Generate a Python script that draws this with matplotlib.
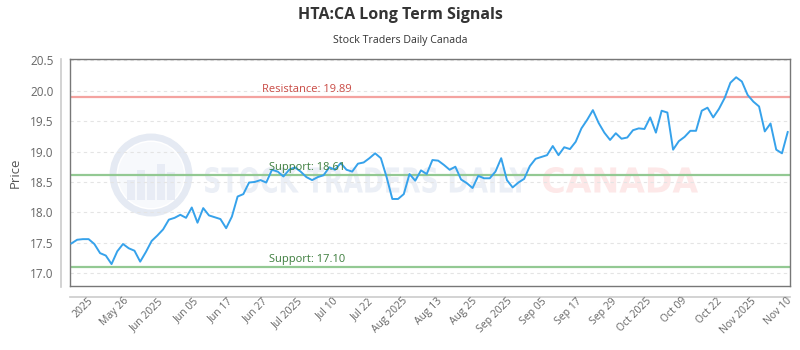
import matplotlib
matplotlib.use("Agg")
import matplotlib.pyplot as plt
from matplotlib.patches import Circle, Rectangle, PathPatch
from matplotlib.lines import Line2D
from matplotlib.transforms import IdentityTransform, Affine2D
from matplotlib.textpath import TextPath
from matplotlib.font_manager import FontProperties
import numpy as np

prices = [
    17.49, 17.55, 17.56, 17.56, 17.48, 17.33, 17.29, 17.15, 17.36, 17.48,
    17.41, 17.37, 17.19, 17.35, 17.53, 17.62, 17.72, 17.88, 17.91, 17.96,
    17.91, 18.08, 17.83, 18.07, 17.95, 17.92, 17.89, 17.74, 17.93, 18.26,
    18.30, 18.49, 18.50, 18.53, 18.49, 18.70, 18.67, 18.59, 18.70, 18.74,
    18.67, 18.58, 18.53, 18.58, 18.61, 18.74, 18.70, 18.81, 18.70, 18.67,
    18.80, 18.82, 18.89, 18.97, 18.89, 18.58, 18.22, 18.22, 18.30, 18.63,
    18.52, 18.69, 18.63, 18.86, 18.85, 18.78, 18.70, 18.75, 18.54, 18.48,
    18.40, 18.60, 18.56, 18.56, 18.67, 18.89, 18.53, 18.41, 18.49, 18.55,
    18.76, 18.88, 18.91, 18.94, 19.09, 18.94, 19.07, 19.04, 19.16, 19.38,
    19.52, 19.68, 19.47, 19.31, 19.19, 19.30, 19.21, 19.23, 19.35, 19.38,
    19.37, 19.56, 19.31, 19.67, 19.64, 19.03, 19.17, 19.24, 19.34, 19.34,
    19.67, 19.72, 19.56, 19.70, 19.88, 20.13, 20.22, 20.15, 19.93, 19.82,
    19.74, 19.33, 19.46, 19.03, 18.97, 19.32,
]
tick_labels = ["2025", "May 26", "Jun 2025", "Jun 05", "Jun 17", "Jun 27",
               "Jul 2025", "Jul 10", "Jul 22", "Aug 2025", "Aug 13", "Aug 25",
               "Sep 2025", "Sep 05", "Sep 17", "Sep 29", "Oct 2025", "Oct 09",
               "Oct 22", "Nov 2025", "Nov 10"]
resistance = [19.89]
supports = [18.61, 17.10]
yticks = [17.0, 17.5, 18.0, 18.5, 19.0, 19.5, 20.0, 20.5]

plt.rcParams['font.family'] = ['Open Sans', 'DejaVu Sans']

W, H = 800, 350
fig = plt.figure(figsize=(8, 3.5), dpi=100)
ax = fig.add_axes([70 / W, 1 - 286 / H, 720 / W, 227 / H])
ax.set_zorder(2)
ax.patch.set_alpha(0)

n = len(prices)
xs = list(range(n))
tick_pos = np.linspace(2.9, n - 1.3, len(tick_labels))

# ---- watermark (figure pixel coordinates) ----
idt = IdentityTransform()
cx, cy = 151, H - 175
fig.patches.append(Circle((cx, cy), 38, transform=idt, fill=False,
                          ec='#e5eaf3', lw=5, zorder=0))
fig.patches.append(Circle((cx, cy), 33, transform=idt, fill=True,
                          fc='#f7f9fc', ec='none', zorder=0))
for bx, bh in [(-20, 20), (-10, 30), (0, 24), (10, 36), (20, 28)]:
    fig.patches.append(Rectangle((cx + bx - 4, cy - 25), 8, bh, transform=idt,
                                 fc='#e8ecf5', ec='none', zorder=0))


def wm_text(s, x0, x1, ytop, ybot, color):
    tp = TextPath((0, 0), s, size=20, prop=FontProperties(family='DejaVu Sans', weight='bold'))
    ext = tp.get_extents()
    sx = (x1 - x0) / ext.width
    sy = (ybot - ytop) / ext.height
    tr = Affine2D().translate(-ext.x0, -ext.y0).scale(sx, sy).translate(x0, H - ybot)
    fig.patches.append(PathPatch(tr.transform_path(tp), transform=idt,
                                 fc=color, ec='none', zorder=0))


wm_text("STOCK TRADERS DAILY", 205, 528, 167, 193, '#ebeff6')
wm_text("CANADA", 543, 698, 167, 193, '#fde8e8')

# ---- data ----
ax.plot(xs, prices, color='#36a2eb', lw=1.4, zorder=3)

ax.axhline(resistance[0], color='#f4a3a0', lw=1.6, zorder=2)
ax.text(33.2, resistance[0] + 0.04, f"Resistance: {resistance[0]:.2f}",
        color='#c94a44', fontsize=8, ha='left', va='bottom', zorder=4)
for s in supports:
    ax.axhline(s, color='#93c993', lw=1.6, zorder=2)
    ax.text(34.4, s + 0.04, f"Support: {s:.2f}", color='#3d7d3d',
            fontsize=8, ha='left', va='bottom', zorder=4)

ax.set_xlim(-0.25, n - 1 + 0.4)
ax.set_ylim(16.79, 20.52)
ax.set_yticks(yticks)
ax.set_yticklabels([f"{v:.1f}" for v in yticks])
ax.set_xticks(tick_pos)
ax.set_xticklabels(tick_labels, rotation=45, ha='right', rotation_mode='anchor')
ax.tick_params(axis='x', length=0, pad=7, labelsize=7.5, colors='#666666')
ax.tick_params(axis='y', length=0, pad=12, labelsize=8.5, colors='#666666')
ax.grid(axis='y', color='#e4e4e4', linestyle=(0, (3, 3)), lw=0.8)
ax.grid(axis='x', visible=False)
ax.set_axisbelow(True)
for sp in ax.spines.values():
    sp.set_color('#777777')
    sp.set_linewidth(1.0)

ax.set_ylabel("Price", fontsize=9.5, color='#555555')
ax.yaxis.set_label_coords(-48 / 720, 0.5)

# outer light axis lines
fig.add_artist(Line2D([60.5 / W, 60.5 / W], [1 - 59 / H, 1 - 287 / H],
                      color='#cccccc', lw=1.2))
fig.add_artist(Line2D([70 / W, 790 / W], [1 - 296.5 / H, 1 - 296.5 / H],
                      color='#cccccc', lw=1.2))

fig.text(0.5, 1 - 15 / H, "HTA:CA Long Term Signals", ha='center', va='center',
         fontsize=11.5, fontweight='bold', color='#333333')
fig.text(0.5, 1 - 40 / H, "Stock Traders Daily Canada", ha='center', va='center',
         fontsize=7.7, color='#333333')

fig.savefig("out.png", dpi=100)
